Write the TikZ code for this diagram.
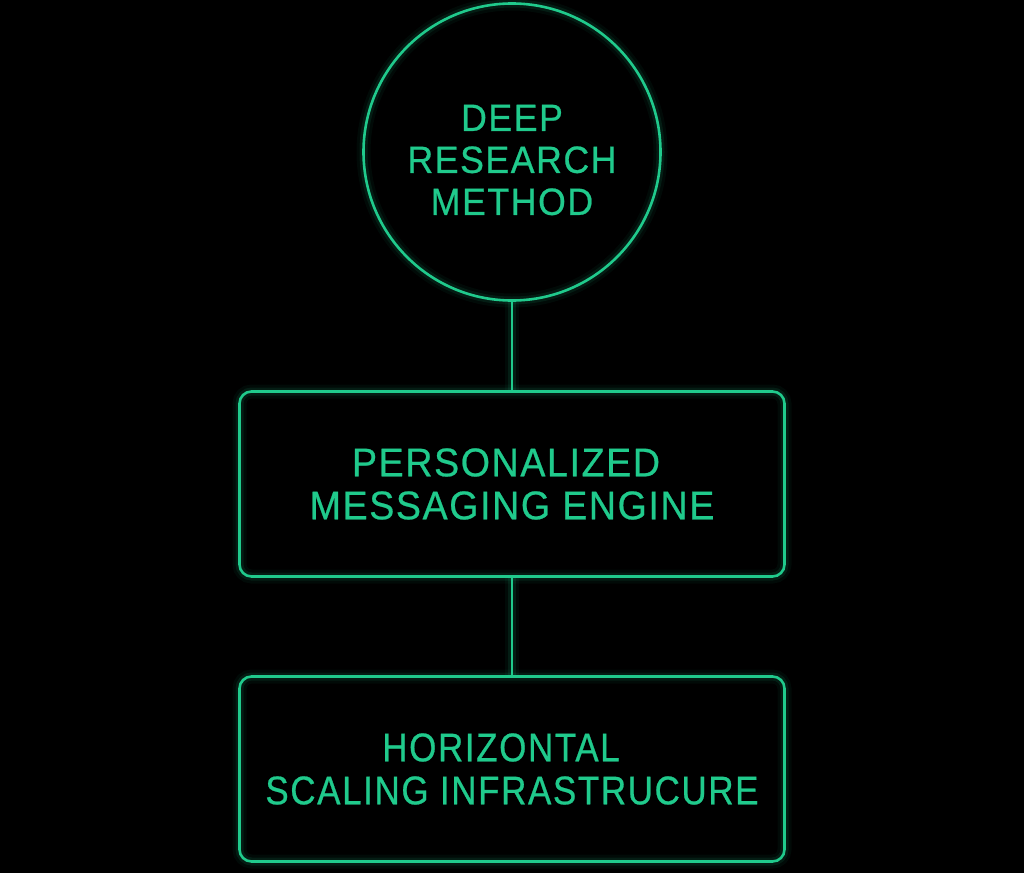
\documentclass[tikz,border=0pt]{standalone}
\usepackage{fontspec}
\setmainfont{Liberation Sans}[FakeStretch=0.94,LetterSpace=4,FakeBold=0.6]
\newfontfamily\narrowfont{Liberation Sans}[FakeStretch=0.875,LetterSpace=4,FakeBold=0.6]
\definecolor{neon}{RGB}{32,202,140}
\tikzset{
  glow/.style={preaction={draw=neon,line width=14pt,opacity=0.05},
               preaction={draw=neon,line width=8pt,opacity=0.10}},
  shapebox/.style={draw=neon,line width=2.6pt,glow,text=neon,align=center,
                   font=\fontsize{40}{43}\selectfont},
  roundbox/.style={shapebox,rectangle,rounded corners=12pt,minimum width=545pt,minimum height=185pt,inner sep=0pt},
  circbox/.style={shapebox,circle,minimum size=297pt,inner sep=0pt},
  labeltext/.style={text=neon,align=center,font=\fontsize{38}{42}\selectfont},
  link/.style={draw=neon,line width=2.6pt,glow}
}
\begin{document}
\begin{tikzpicture}[x=1pt,y=-1pt]
\fill[black] (0,0) rectangle (1024,873);
\useasboundingbox (0,0) rectangle (1024,873);
\node[circbox] (deep) at (512,152) {};
\node[labeltext] (deeptext) at (512,160) {DEEP\\RESEARCH\\METHOD};
\node[roundbox] (msg) at (512,484) {PERSONALIZED\kern12pt\relax\\MESSAGING ENGINE};
\node[roundbox,font=\narrowfont\fontsize{40}{43}\selectfont] (hor) at (512,769) {HORIZONTAL\kern22pt\relax\\SCALING INFRASTRUCURE};
\draw[link] (deep.south) -- (msg.north);
\draw[link] (msg.south) -- (hor.north);
\end{tikzpicture}
\end{document}
